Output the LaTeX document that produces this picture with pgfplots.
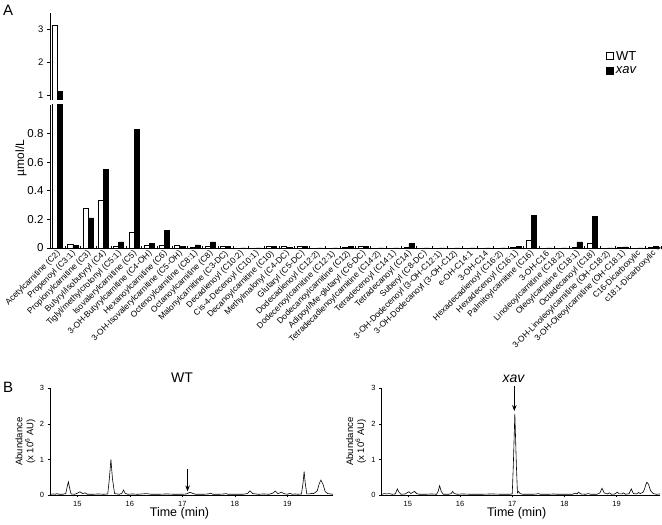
\documentclass[border=0pt]{standalone}
\usepackage{fontspec}
\setmainfont{Liberation Sans}
\usepackage{pgfplots}
\usepackage{pgfplotstable}
\pgfplotsset{compat=1.18}
\usetikzlibrary{arrows.meta}

% acylcarnitine levels (umol/L), index = category
\pgfplotstableread{
idx wt    xav
0   3.12  1.10
1   0.028 0.019
2   0.28  0.21
3   0.33  0.55
4   0.01  0.042
5   0.11  0.83
6   0.021 0.03
7   0.021 0.12
8   0.021 0.012
9   0.002 0.021
10  0.01  0.042
11  0.01  0.01
12  0     0
13  0     0
14  0.01  0.01
15  0.01  0.004
16  0.01  0.01
17  0     0
18  0     0
19  0.003 0.01
20  0.01  0.01
21  0     0
22  0     0
23  0.006 0.033
24  0     0
25  0     0
26  0     0
27  0     0
28  0     0
29  0     0
30  0.003 0.01
31  0.051 0.23
32  0     0
33  0     0
34  0.005 0.042
35  0.03  0.22
36  0     0
37  0.003 0.008
38  0     0
39  0.003 0.01
}\acyl

\tikzset{timelabel/.style={anchor=base, font=\fontsize{12.5}{14}\selectfont, inner sep=0pt}}

\pgfplotsset{
  bars/.style={
    scale only axis, xmin=-0.5, xmax=39.5,
    ybar=0pt, bar width=5.1pt,
    axis y line=left, axis line style={-, line width=0.6pt},
    tick align=outside, major tick length=3pt,
    tick style={line width=0.6pt, black},
    /pgf/number format/assume math mode=true,
  },
  wtbar/.style={draw=black, fill=white, line width=0.7pt},
  xavbar/.style={draw=black, fill=black, line width=0.7pt},
  chrom/.style={
    scale only axis, height=106.7pt,
    ymin=0, ymax=3,
    axis x line=bottom, axis y line=left, axis line style={-, line width=0.6pt},
    tick align=outside, major tick length=2.5pt, minor tick length=1.2pt,
    tick style={line width=0.5pt, black},
    xtick={15,...,19}, ytick={0,1,2,3}, minor x tick num=9,
    tick label style={font=\fontsize{7.5}{9}\selectfont},
    /pgf/number format/assume math mode=true,
    clip=false,
    ylabel={Abundance\\(x 10\textsuperscript{6} AU)},
    ylabel style={anchor=center, align=center, font=\fontsize{9.5}{11}\selectfont},
  },
  trace/.style={sharp plot, no marks, black, line width=0.6pt},
}

\begin{document}
\begin{tikzpicture}
\useasboundingbox (0pt,0pt) rectangle (662pt,525pt);

% panel A, lower part of the broken axis
\begin{axis}[bars,
  at={(50pt,277pt)}, anchor=south west, width=611pt, height=143pt,
  ymin=0, ymax=1,
  axis x line=bottom,
  ytick={0,0.2,0.4,0.6,0.8},
  yticklabel style={font=\fontsize{11.5}{13}\selectfont},
  xtick={0,...,39},
  major x tick style={draw=none},
  minor xtick={-0.5,0.5,...,39.5},
  minor tick length=3pt,
  xticklabels={Acetylcarnitine (C2), Propenoyl (C3:1), Propionylcarnitine (C3), Butyryl/isobutyryl (C4), Tiglyl/methylcrotonyl (C5:1), Isovalerylcarnitine (C5), 3-OH-Butyrylcarnitine (C4-OH), Hexanoylcarnitine (C6), 3-OH-Isovalerylcarnitine (C5-OH), Octenoylcarnitine (C8:1), Octanoylcarnitine (C8), Malonylcarnitine (C3-DC), Decadienoyl (C10:2), Cis-4-Decenoyl (C10:1), Decanoylcarnitine (C10), Methylmalonyl (C4-DC), Glutaryl (C5-DC), Dodecadienoyl (C12:2), Dodecenoylcarnitine (C12:1), Dodecanoylcarnitine (C12), Adipoyl/Me-glutaryl (C6-DC), Tetradecadienoylcarnitine (C14:2), Tetradecenoyl (C14:1), Tetradecanoyl (C14), Suberyl (C8-DC), 3-OH-Dodecenoyl (3-OH-C12:1), 3-OH-Dodecanoyl (3-OH-C12), e-OH-C14:1, 3-OH-C14, Hexadecadienoyl (C16:2), Hexadecenoyl (C16:1), Palmitoylcarnitine (C16), 3-OH-C16, Linoleoylcarnitine (C18:2), Oleoylcarnitine (C18:1), Octadecanoyl (C18), 3-OH-Linoleoylcarnitine (OH-C18:2), 3-OH-Oleoylcarnitine (OH-C18:1), C16-Dicarboxylic, c18:1-Dicarboxylic},
  xticklabel style={rotate=45, anchor=east, yshift=-3pt, inner sep=1pt,
    font=\fontsize{8.4}{9}\selectfont},
  ylabel={µmol/L},
  ylabel style={at={(axis description cs:-0.0475,0.63)}, anchor=center,
    font=\fontsize{12}{14}\selectfont},
]
\addplot[wtbar] table[x=idx, y=wt] {\acyl};
\addplot[xavbar] table[x=idx, y=xav] {\acyl};
\end{axis}

% panel A, upper part of the broken axis (only the acetylcarnitine bars reach it)
\begin{axis}[bars,
  at={(50pt,425pt)}, anchor=south west, width=611pt, height=87pt,
  ymin=0.85, ymax=3.5,
  axis x line=none,
  ytick={1,2,3},
  yticklabel style={font=\fontsize{9.5}{11}\selectfont},
  restrict x to domain=-0.5:0.5,
  legend style={at={(rel axis cs:0.905,0.61)}, anchor=north west, draw=none,
    fill=none, font=\fontsize{13}{15}\selectfont, row sep=1pt,
    /tikz/every even column/.append style={column sep=2pt}},
  legend image code/.code={\draw[#1] (0pt,-3.5pt) rectangle (7pt,3.5pt);},
]
\addplot[wtbar] table[x=idx, y=wt] {\acyl};
\addplot[xavbar] table[x=idx, y=xav] {\acyl};
\legend{WT, \textit{xav}}
\end{axis}

% panel B, WT chromatogram
\begin{axis}[chrom, at={(50pt,30pt)}, anchor=south west, width=283pt,
  xmin=14.48, xmax=19.87,
  ylabel style={at={(axis description cs:-0.087,0.5)}}]
\addplot[trace] coordinates {
(14.50,0.02) (14.55,0.03) (14.58,0.02) (14.61,0.04) (14.65,0.02) (14.72,0.02)
(14.78,0.04) (14.81,0.25) (14.83,0.37) (14.85,0.22) (14.88,0.03) (14.95,0.02)
(15.00,0.05) (15.05,0.09) (15.10,0.04) (15.15,0.06) (15.19,0.02) (15.30,0.02)
(15.40,0.03) (15.50,0.02) (15.58,0.03) (15.61,0.45) (15.64,1.00) (15.67,0.45)
(15.71,0.04) (15.80,0.02) (15.85,0.05) (15.88,0.14) (15.91,0.05) (15.96,0.02)
(16.05,0.03) (16.15,0.02) (16.32,0.04) (16.40,0.02) (16.55,0.02) (16.70,0.03)
(16.85,0.02) (17.00,0.02) (17.08,0.03) (17.12,0.06) (17.15,0.075) (17.19,0.05)
(17.25,0.02) (17.40,0.02) (17.50,0.03) (17.54,0.05) (17.58,0.02) (17.70,0.02)
(17.80,0.03) (17.83,0.04) (17.87,0.02) (18.00,0.02) (18.15,0.02) (18.24,0.04)
(18.29,0.12) (18.34,0.04) (18.45,0.02) (18.55,0.03) (18.65,0.02) (18.72,0.05)
(18.77,0.11) (18.82,0.04) (18.86,0.06) (18.89,0.08) (18.93,0.04) (19.00,0.02)
(19.05,0.05) (19.09,0.02) (19.15,0.03) (19.20,0.02) (19.27,0.03) (19.30,0.35)
(19.32,0.66) (19.34,0.35) (19.37,0.03) (19.43,0.03) (19.47,0.05) (19.50,0.04)
(19.53,0.07) (19.57,0.12) (19.61,0.33) (19.64,0.42) (19.68,0.3) (19.72,0.1)
(19.77,0.04) (19.82,0.03) (19.87,0.02)
};
\draw[-{Stealth[length=6pt,width=4.5pt]}, line width=0.9pt]
  (axis cs:17.1,0.74) -- (axis cs:17.1,0.1);
\node[timelabel] at (axis description cs:0.4576,-0.206) {Time (min)};
\end{axis}

% panel B, xav chromatogram
\begin{axis}[chrom, at={(381.7pt,30pt)}, anchor=south west, width=278.3pt,
  xmin=14.5, xmax=19.83,
  ylabel style={at={(axis description cs:-0.092,0.5)}}]
\addplot[trace] coordinates {
(14.50,0.02) (14.55,0.04) (14.60,0.03) (14.65,0.04) (14.70,0.02) (14.76,0.03)
(14.78,0.10) (14.80,0.17) (14.83,0.08) (14.87,0.02) (14.95,0.03) (15.02,0.09)
(15.06,0.04) (15.10,0.08) (15.13,0.10) (15.17,0.04) (15.22,0.02) (15.35,0.02)
(15.45,0.03) (15.55,0.02) (15.58,0.10) (15.61,0.26) (15.64,0.10) (15.68,0.02)
(15.78,0.02) (15.83,0.04) (15.86,0.10) (15.89,0.04) (15.95,0.02) (16.05,0.03)
(16.20,0.02) (16.40,0.02) (16.60,0.03) (16.80,0.02) (16.95,0.02) (17.00,0.03)
(17.02,0.8) (17.05,2.29) (17.08,0.8) (17.10,0.06) (17.12,0.10) (17.15,0.04)
(17.20,0.02) (17.40,0.02) (17.47,0.03) (17.50,0.04) (17.54,0.02) (17.70,0.02)
(17.80,0.03) (17.85,0.02) (18.00,0.02) (18.15,0.02) (18.21,0.05) (18.24,0.03)
(18.27,0.08) (18.31,0.03) (18.40,0.02) (18.46,0.04) (18.50,0.02) (18.62,0.02)
(18.68,0.06) (18.72,0.19) (18.76,0.06) (18.82,0.03) (18.86,0.06) (18.90,0.02)
(18.97,0.03) (19.01,0.08) (19.05,0.03) (19.10,0.03) (19.13,0.06) (19.17,0.02)
(19.24,0.04) (19.28,0.17) (19.32,0.04) (19.38,0.03) (19.42,0.07) (19.45,0.04)
(19.48,0.06) (19.50,0.07) (19.53,0.15) (19.56,0.30) (19.58,0.36) (19.61,0.30)
(19.65,0.12) (19.70,0.04) (19.76,0.02) (19.83,0.03)
};
\draw[-{Stealth[length=6pt,width=4.5pt]}, line width=0.9pt]
  (axis cs:17.04,3.06) -- (axis cs:17.04,2.36);
\node[timelabel] at (axis description cs:0.485,-0.206) {Time (min)};
\end{axis}

% panel letters and titles
\node[anchor=base west, font=\fontsize{15}{17}\selectfont, inner sep=0pt] at (3pt,509pt) {A};
\node[anchor=base west, font=\fontsize{15}{17}\selectfont, inner sep=0pt] at (3pt,132pt) {B};
\node[anchor=base, font=\fontsize{14}{16}\selectfont, inner sep=0pt] at (182pt,142pt) {WT};
\node[anchor=base, font=\fontsize{14}{16}\itshape, inner sep=0pt] at (513.5pt,142pt) {xav};
\end{tikzpicture}
\end{document}
